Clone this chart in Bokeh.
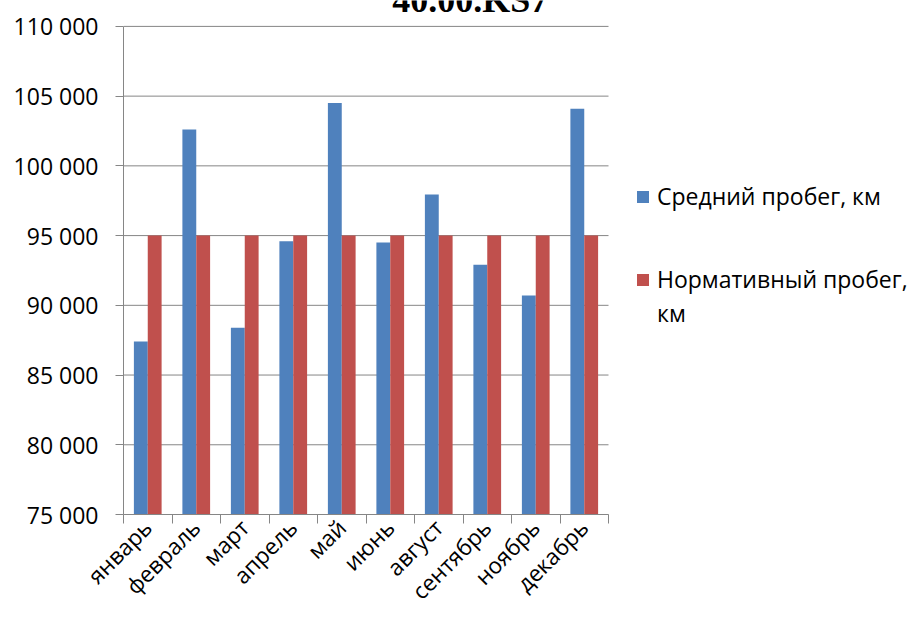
import math
from bokeh.plotting import figure
from bokeh.models import (Range1d, FixedTicker, LinearAxis, Label, Legend,
                          LegendItem, CustomJSTickFormatter)
from bokeh.embed import file_html
from bokeh.resources import INLINE

# Monthly data
months = ["январь", "февраль", "март", "апрель", "май", "июнь",
          "август", "сентябрь", "ноябрь", "декабрь"]
avg_run = [87400, 102600, 88400, 94600, 104500, 94500, 97950, 92900, 90700, 104100]
norm_run = [95000, 95000, 95000, 95000, 95000, 95000, 95000, 95000, 95000, 95000]

y_ticks = [75000, 80000, 85000, 90000, 95000, 100000, 105000, 110000]
y_labels = ["75 000", "80 000", "85 000", "90 000", "95 000", "100 000", "105 000", "110 000"]

series_names = ["Средний пробег, км", "Нормативный пробег,", "км"]
title_text = "40.00.KS7"

BLUE = "#4F81BD"
RED = "#C0504D"
GRID = "#868686"
FONT = "Open Sans"

W, H = 908, 619
LEFT, BOTTOM = 123, 103
PLOT_W = 485          # width taken by the ten categories
TOP_PAD = 26          # room above the top gridline for the heading

n = len(months)
bar_w = 1 / 3.5  # two bars per category, 150% gap
centers = [i + 0.5 for i in range(n)]
x_blue = [c - bar_w / 2 for c in centers]
x_red = [c + bar_w / 2 for c in centers]

# the frame reaches the top and right edges; the legend and heading live inside it
frame_w = W - LEFT
frame_h = H - BOTTOM
x_end = n * frame_w / PLOT_W
y_span = y_ticks[-1] - y_ticks[0]
y_top = y_ticks[-1] + y_span * TOP_PAD / (frame_h - TOP_PAD)

p = figure(width=W, height=H, output_backend="svg", toolbar_location=None,
           x_range=Range1d(0, x_end), y_range=Range1d(y_ticks[0], y_top),
           x_axis_location=None,
           min_border_left=LEFT, min_border_right=0,
           min_border_top=0, min_border_bottom=BOTTOM)
p.outline_line_color = None
p.background_fill_color = "white"
p.border_fill_color = "white"

# horizontal gridlines across the category area only
p.xgrid.visible = False
p.ygrid.visible = False
p.segment(x0=0, x1=n, y0=y_ticks, y1=y_ticks, line_color=GRID, line_width=1)

blue = p.vbar(x=x_blue, top=avg_run, bottom=y_ticks[0], width=bar_w,
              fill_color=BLUE, line_color=None)
red = p.vbar(x=x_red, top=norm_run, bottom=y_ticks[0], width=bar_w,
             fill_color=RED, line_color=None)
# swatch-less entry used for the wrapped second line of the legend
blank = p.vbar(x=[], top=[], bottom=[], width=bar_w, fill_alpha=0, line_alpha=0)

# y axis
yax = p.yaxis[0]
yax.ticker = FixedTicker(ticks=y_ticks)
yax.bounds = (y_ticks[0], y_ticks[-1])
yax.major_label_overrides = dict(zip(y_ticks, y_labels))
yax.axis_line_color = GRID
yax.major_tick_line_color = GRID
yax.major_tick_out = 8
yax.major_tick_in = 0
yax.minor_tick_line_color = None
yax.major_label_standoff = 17
yax.major_label_text_font = FONT
yax.major_label_text_font_size = "23px"
yax.major_label_text_color = "black"

# x axis: tick marks between categories
tick_axis = LinearAxis(ticker=FixedTicker(ticks=list(range(n + 1))),
                       bounds=(0, n),
                       formatter=CustomJSTickFormatter(code="return ''"),
                       axis_line_color=GRID, major_tick_line_color=GRID,
                       major_tick_out=9, major_tick_in=0,
                       minor_tick_line_color=None, major_label_standoff=0,
                       major_label_text_font_size="1px")
# x axis: month names at category centres
label_axis = LinearAxis(ticker=FixedTicker(ticks=centers),
                        bounds=(0, n),
                        formatter=CustomJSTickFormatter(args=dict(names=months),
                                                        code="return names[Math.floor(tick)] || ''"),
                        axis_line_color=None, major_tick_line_color=None,
                        minor_tick_line_color=None, major_tick_out=0,
                        major_label_orientation=math.pi / 4,
                        major_label_standoff=0,
                        major_label_text_font=FONT,
                        major_label_text_font_size="22.5px",
                        major_label_text_color="black")
p.add_layout(tick_axis, "below")
p.add_layout(label_axis, "below")

legend_style = dict(margin=0, padding=0, border_line_color=None,
                    background_fill_alpha=0, glyph_width=15, glyph_height=15,
                    label_standoff=7, label_text_font=FONT,
                    label_text_font_size="23px", label_text_color="black")
legend_a = Legend(items=[LegendItem(label=series_names[0], renderers=[blue])],
                  location=(512, 302), **legend_style)
legend_b = Legend(items=[LegendItem(label=series_names[1], renderers=[red]),
                         LegendItem(label=series_names[2], renderers=[blank])],
                  location=(512, 185), spacing=2, **legend_style)
p.add_layout(legend_a, "center")
p.add_layout(legend_b, "center")

p.add_layout(Label(x=7.15, y=y_ticks[-1] + 1900, text=title_text, text_align="center",
                   text_baseline="alphabetic", text_font="Liberation Serif",
                   text_font_style="bold", text_font_size="36px",
                   text_color="black"))

open("out.html", "w").write(file_html(p, INLINE))
